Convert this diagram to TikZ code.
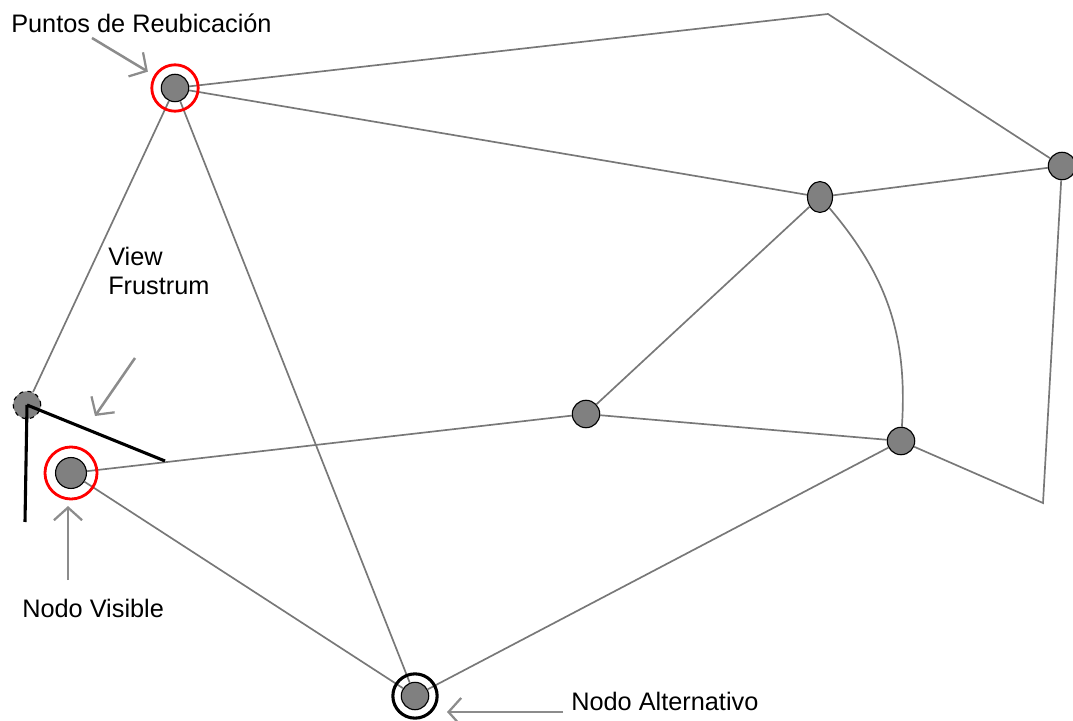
\documentclass[tikz,border=0pt]{standalone}
\usepackage{fontspec}
\setmainfont{Liberation Sans}
\usetikzlibrary{arrows.meta,shapes.geometric}

\definecolor{gris}{RGB}{128,128,128}
\definecolor{arista}{RGB}{120,120,120}
\definecolor{flechagris}{RGB}{140,140,140}

\tikzset{
    nodo/.style={circle, draw=black, line width=0.8pt, fill=gris, inner sep=0pt, minimum size=19.5pt},
    anillo/.style={circle, draw=red, line width=2pt, inner sep=0pt, minimum size=33pt},
    arista/.style={draw=arista, line width=1.2pt},
    frusto/.style={draw=black, line width=2.2pt},
    flecha/.style={draw=flechagris, line width=1.8pt, -{Straight Barb[length=9pt,width=20pt,line width=1.6pt]}},
    etiqueta/.style={anchor=base west, inner sep=0pt, font=\fontsize{18}{21}\selectfont}
}

\begin{document}
\begin{tikzpicture}[x=0.025cm,y=-0.025cm] % 1 unidad = 1 pixel

        \useasboundingbox (0,0) rectangle (1073,721);

        % Nodos del grafo
        \node[nodo] (A) at (175,88) {};
        \node[nodo, ellipse, minimum width=17.8pt, minimum height=22pt] (B) at (820,197) {};
        \node[nodo] (C) at (1062,166) {};
        \node[nodo] (D) at (586,414) {};
        \node[nodo] (E) at (901,441) {};
        \node[nodo, dashed] (F) at (27,405) {}; % Punto de vista
        \node[nodo, minimum size=22pt] (G) at (71,473) {};
        \node[nodo] (H) at (415,696) {};

        % Esquinas sin nodo
        \coordinate (esqSup) at (828,14);
        \coordinate (esqInf) at (1043,503);

        % Aristas
        \draw[arista] (A) -- (esqSup) -- (C);
        \draw[arista] (A) -- (B);
        \draw[arista] (A) -- (F);
        \draw[arista] (A) -- (H);
        \draw[arista] (B) -- (C);
        \draw[arista] (B) -- (D);
        \draw[arista] (B) to[bend left=22] (E);
        \draw[arista] (C) -- (esqInf) -- (E);
        \draw[arista] (D) -- (E);
        \draw[arista] (G) -- (D);
        \draw[arista] (G) -- (H);
        \draw[arista] (H) -- (E);

        % Anillos de marca
        \node[anillo] (anilloA) at (A) {};
        \node[anillo, minimum size=37pt] (anilloG) at (G) {};
        \node[anillo, draw=black, line width=2.2pt, minimum size=31.5pt] (anilloH) at (H) {};

        % View frustum
        \coordinate (frustoDer) at (165,461);
        \coordinate (frustoAbj) at (25,522);
        \draw[frusto] (F.center) -- (frustoDer);
        \draw[frusto] (F.center) -- (frustoAbj);

        % Etiquetas
        \node[etiqueta] (txtA) at (11,33) {Puntos de Reubicación};
        \node[etiqueta, align=left] (txtF) at (108,295) {View\\Frustrum};
        \node[etiqueta] (txtG) at (22,617) {Nodo Visible};
        \node[etiqueta] (txtH) at (571,710) {Nodo Alternativo};

        % Flechas de las etiquetas
        \coordinate (colaA) at (92,38);
        \coordinate (colaF) at (135,358);
        \coordinate (puntaF) at (95,416);
        \coordinate (colaG) at (68,580);
        \coordinate (colaH) at (563,712);
        \coordinate (puntaH) at (447,712);
        \draw[flecha, shorten >=5pt] (colaA) -- (anilloA);
        \draw[flecha] (colaF) -- (puntaF);
        \draw[flecha, shorten >=4pt] (colaG) -- (colaG |- anilloG.south);
        \draw[flecha] (colaH) -- (puntaH);

    \end{tikzpicture}
\end{document}
